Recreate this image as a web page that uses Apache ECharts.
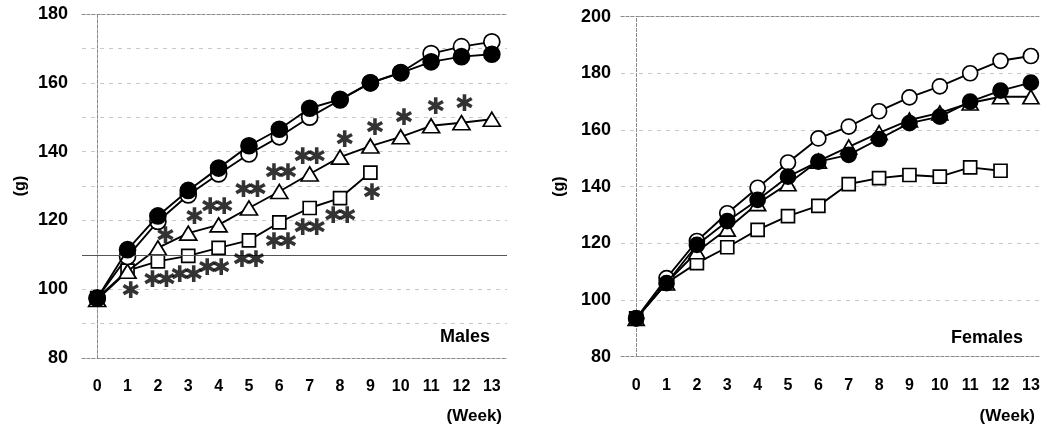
<!DOCTYPE html>
<html>
<head>
<meta charset="utf-8">
<script src="https://cdn.jsdelivr.net/npm/echarts@6/dist/echarts.min.js"></script>
<style>html,body{margin:0;padding:0;background:#fff}#c{width:1047px;height:430px}</style>
</head>
<body>
<div id="c"></div>
<script>
// ---- data ----
const weeks = [0,1,2,3,4,5,6,7,8,9,10,11,12,13];
const yTicksMale = [80,100,120,140,160,180];
const yTicksFemale = [80,100,120,140,160,180,200];

const maleFilled = [97.4,111.5,121.3,128.7,135.2,141.7,146.5,152.6,155.2,160.0,162.9,166.1,167.6,168.3];
const maleOpen   = [97.4,109.5,119.7,127.4,133.5,139.3,144.3,150.0,155.0,160.0,163.0,168.5,170.5,171.9];
const maleTri    = [97.0,105.2,112.0,116.3,118.7,123.6,128.4,133.5,138.4,141.6,144.3,147.5,148.4,149.4];
const maleSq     = [97.4,105.4,108.1,109.7,112.0,114.2,119.4,123.6,126.5,133.9,null,null,null,null];

// significance marks: [week position, weight (g), text]
const maleSig = [
  [1.1, 99.4, '*'],
  [2.25,115.5,'*'], [2.05,102.8,'**'],
  [3.2, 121.1,'*'], [2.95,104.0,'**'],
  [3.95,124.0,'**'],[3.85,106.2,'**'],
  [5.05,128.9,'**'],[5.0, 108.6,'**'],
  [6.05,133.8,'**'],[6.05,113.6,'**'],
  [7.0, 138.5,'**'],[7.0, 117.9,'**'],
  [8.15,143.4,'*'], [8.0, 121.3,'**'],
  [9.15,146.8,'*'], [9.05,128.1,'*'],
  [10.1,149.7,'*'],
  [11.15,153.1,'*'],
  [12.1,153.8,'*']
];

const femaleOpen   = [93.5,107.7,120.8,130.6,139.6,148.5,157.0,161.2,166.6,171.5,175.4,180.0,184.4,186.1];
const femaleFilled = [93.5,105.9,119.4,127.8,135.3,143.5,148.8,151.2,156.8,162.4,164.7,170.0,173.9,176.7];
const femaleTri    = [93.5,106.0,117.0,125.0,134.0,141.0,149.0,154.0,159.0,163.5,166.0,169.5,171.7,171.7];
const femaleSq     = [93.5,106.0,113.0,118.6,124.7,129.6,133.2,140.9,143.0,144.1,143.5,146.8,145.6,null];

// ---- build ----
const FONT = 'Liberation Sans';
function pairs(vals){ return weeks.map((w,i)=>[w, vals[i]]).filter(p=>p[1]!=null); }

function lineSeries(idx, vals, symbol, size, filled, z){
  return {
    type:'line', xAxisIndex: idx*2, yAxisIndex: idx*2, data: pairs(vals),
    symbol, symbolSize: size, showSymbol:true, z,
    lineStyle:{color:'#000', width:1.9},
    itemStyle:{color: filled ? '#000' : '#fff', borderColor:'#000', borderWidth:1.7},
    emphasis:{disabled:true}, animation:false
  };
}

// each asterisk of a mark is drawn as its own glyph, spaced a glyph-width apart
const STAR_GAP = 14;
const sigGlyphs = [];
maleSig.forEach(([x, y, txt]) => {
  const n = txt.length;
  for (let k = 0; k < n; k++) {
    sigGlyphs.push({value:[x, y], label:{offset:[(k - (n - 1) / 2) * STAR_GAP, 1]}});
  }
});

const borderStyle = {color:'#8a8a8a', width:1, type:[3,2]};
const gridStyle = {color:'#c8c8c8', width:1, type:[4,5]};

function xAxes(gi, min, max){
  return [
    {type:'value', gridIndex:gi, min, max, position:'bottom',
     axisLine:{show:true, lineStyle:borderStyle}, axisTick:{show:false},
     splitLine:{show:false},
     axisLabel:{customValues:weeks, color:'#000', fontFamily:FONT, fontWeight:'bold', fontSize:16, margin:21}},
    {type:'value', gridIndex:gi, min, max, position:'top',
     axisLine:{show:true, lineStyle:borderStyle}, axisTick:{show:false},
     axisLabel:{show:false}, splitLine:{show:false}}
  ];
}
function yAxes(gi, ticks, minorSplit, margin){
  return [
    {type:'value', gridIndex:gi, min:ticks[0], max:ticks[ticks.length-1], interval:20, position:'left',
     name:'(g)', nameLocation:'middle', nameGap:53,
     nameTextStyle:{color:'#000', fontFamily:FONT, fontWeight:'bold', fontSize:16},
     axisLine:{show:true, lineStyle:borderStyle}, axisTick:{show:false},
     axisLabel:{color:'#000', fontFamily:FONT, fontWeight:'bold', fontSize:18, margin},
     splitLine:{show:true, lineStyle:gridStyle},
     minorTick:{show:false, splitNumber:2},
     minorSplitLine:{show:minorSplit, lineStyle:gridStyle}},
    {type:'value', gridIndex:gi, min:ticks[0], max:ticks[ticks.length-1], interval:20, position:'right',
     axisLine:{show:true, lineStyle:borderStyle}, axisTick:{show:false},
     axisLabel:{show:false}, splitLine:{show:false}}
  ];
}

const series = [
  lineSeries(0, maleSq, 'rect', 13, false, 2),
  lineSeries(0, maleTri, 'triangle', [17,14], false, 3),
  lineSeries(0, maleOpen, 'circle', 16, false, 4),
  Object.assign(lineSeries(0, maleFilled, 'circle', 16, true, 5), {
    markLine:{silent:true, symbol:'none', label:{show:false},
      lineStyle:{color:'#555', width:1, type:'solid'}, data:[{yAxis:110}]}
  }),
  {type:'scatter', xAxisIndex:0, yAxisIndex:0, data: sigGlyphs, symbolSize:0, z:6, animation:false,
   label:{show:true, position:'inside', formatter:'✱', color:'#000',
     fontFamily:'DejaVu Sans', fontWeight:'bold', fontSize:23}},
  lineSeries(1, femaleSq, 'rect', 13, false, 2),
  lineSeries(1, femaleTri, 'triangle', [16,14], false, 3),
  lineSeries(1, femaleOpen, 'circle', 15, false, 4),
  lineSeries(1, femaleFilled, 'circle', 15, true, 5)
];

const chart = echarts.init(document.getElementById('c'), null, {renderer:'canvas'});
chart.setOption({
  backgroundColor:'#fff',
  animation:false,
  grid:[
    {left:82, top:14, width:425, height:344},
    {left:621, top:16.6, width:419, height:340}
  ],
  xAxis:[...xAxes(0,-0.5,13.5), ...xAxes(1,-0.5,13.3)],
  yAxis:[...yAxes(0,yTicksMale,true,14), ...yAxes(1,yTicksFemale,false,10)],
  series,
  graphic:[
    {type:'text', x:490, y:337, style:{text:'Males', fill:'#000', font:'bold 18px "Liberation Sans"', textAlign:'right', textVerticalAlign:'middle'}},
    {type:'text', x:1023, y:338, style:{text:'Females', fill:'#000', font:'bold 18px "Liberation Sans"', textAlign:'right', textVerticalAlign:'middle'}},
    {type:'text', x:502, y:416, style:{text:'(Week)', fill:'#000', font:'bold 17px "Liberation Sans"', textAlign:'right', textVerticalAlign:'middle'}},
    {type:'text', x:1035, y:416, style:{text:'(Week)', fill:'#000', font:'bold 17px "Liberation Sans"', textAlign:'right', textVerticalAlign:'middle'}}
  ]
});
</script>
</body>
</html>
